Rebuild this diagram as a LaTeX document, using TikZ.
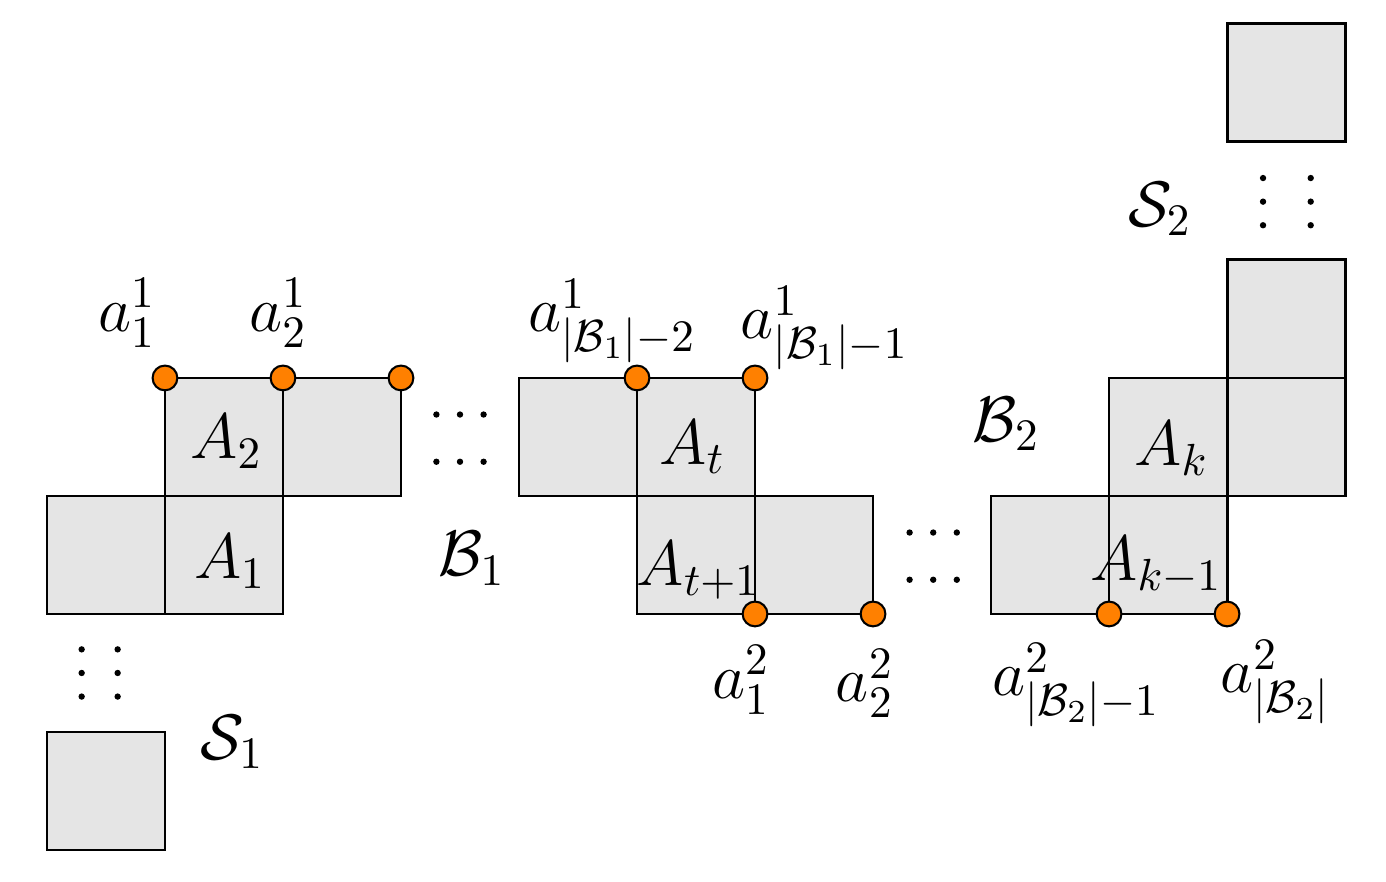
\RequirePackage{fix-cm}
\documentclass[tikz,border=0pt]{standalone}
\usepackage{amsmath}
\begin{document}
\begin{tikzpicture}[
    cell/.style={fill=black!10},
    edge/.style={line width=0.7pt},
    knot/.style={circle,draw,fill=orange,line width=0.5pt,inner sep=0pt,minimum size=0.21cm},
    lbl/.style={inner sep=0pt,font=\fontsize{15.5}{18}\selectfont}]
  \useasboundingbox (-0.398,-2.263) rectangle (11.347,5.203);
  % fill all cells first, then the borders, so shared edges stay whole
  \foreach \x/\y in {0/-2,0/0,1/0,1/1,2/1,4/1,5/1,5/0,6/0,8/0,9/0,9/1,10/1,10/2,10/4}
    \fill[cell] (\x,\y) rectangle ++(1,1);
  \foreach \x/\y in {0/-2,0/0,1/0,1/1,2/1,4/1,5/1,5/0,6/0,8/0,9/0,9/1,10/1,10/2,10/4}
    \draw[edge] (\x,\y) rectangle ++(1,1);
  % ellipses between the blocks
  \foreach \y in {1.69,1.29}
    \foreach \dx in {-0.2,0,0.2}
      \fill (3.5+\dx,\y) circle (0.027);
  \foreach \y in {0.69,0.29}
    \foreach \dx in {-0.2,0,0.2}
      \fill (7.51+\dx,\y) circle (0.027);
  \foreach \x in {0.294,0.599}
    \foreach \dy in {-0.2,0,0.2}
      \fill (\x,-0.5+\dy) circle (0.027);
  \foreach \x in {10.305,10.709}
    \foreach \dy in {-0.2,0,0.2}
      \fill (\x,3.494+\dy) circle (0.027);
  % marked corners, top and bottom
  \foreach \x [count=\i] in {1,2,3,5,6}
    \node[knot] (t\i) at (\x,2) {};
  \foreach \x [count=\i] in {6,7,9,10}
    \node[knot] (b\i) at (\x,0) {};
  % labels
  \node[lbl] (a11) at (0.678,2.55) {$a_1^1$};
  \node[lbl] (a21) at (1.96,2.55) {$a_2^1$};
  \node[lbl] (a1m2) at (4.79,2.48) {$a^1_{|\mathcal{B}_1|-2}$};
  \node[lbl] (a1m1) at (6.59,2.42) {$a^1_{|\mathcal{B}_1|-1}$};
  \node[lbl] (a12) at (5.88,-0.56) {$a_1^2$};
  \node[lbl] (a22) at (6.93,-0.59) {$a_2^2$};
  \node[lbl] (a2m1) at (8.72,-0.60) {$a^2_{|\mathcal{B}_2|-1}$};
  \node[lbl] (a2m) at (10.41,-0.58) {$a^2_{|\mathcal{B}_2|}$};
  \node[lbl] (A2) at (1.52,1.46) {$A_2$};
  \node[lbl] (A1) at (1.55,0.445) {$A_1$};
  \node[lbl] (At) at (5.47,1.415) {$A_t$};
  \node[lbl] (At1) at (5.52,0.37) {$A_{t+1}$};
  \node[lbl] (Ak) at (9.53,1.40) {$A_k$};
  \node[lbl] (Ak1) at (9.40,0.41) {$A_{k-1}$};
  \node[lbl] (B1) at (3.60,0.47) {$\mathcal{B}_1$};
  \node[lbl] (B2) at (8.13,1.61) {$\mathcal{B}_2$};
  \node[lbl] (S1) at (1.57,-1.085) {$\mathcal{S}_1$};
  \node[lbl] (S2) at (9.43,3.43) {$\mathcal{S}_2$};
\end{tikzpicture}
\end{document}
